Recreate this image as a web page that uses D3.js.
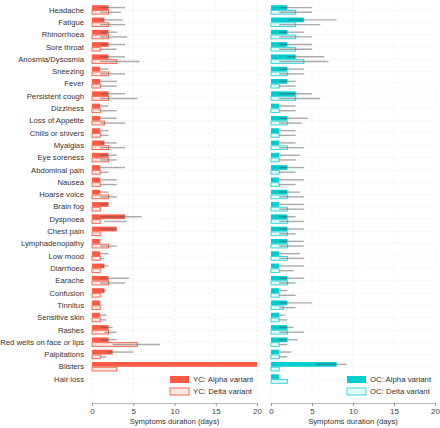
<!DOCTYPE html>
<html><head><meta charset="utf-8">
<script src="https://cdn.jsdelivr.net/npm/d3@7"></script>
<style>
body{margin:0;background:#fff;}
svg{display:block;font-family:"Liberation Sans",Arial,sans-serif;}
</style></head>
<body>
<svg id="chart" width="440" height="428"></svg>
<script>
const symptoms = ["Headache","Fatigue","Rhinorrhoea","Sore throat","Anosmia/Dysosmia","Sneezing","Fever","Persistent cough","Dizziness","Loss of Appetite","Chills or shivers","Myalgias","Eye soreness","Abdominal pain","Nausea","Hoarse voice","Brain fog","Dyspnoea","Chest pain","Lymphadenopathy","Low mood","Diarrhoea","Earache","Confusion","Tinnitus","Sensitive skin","Rashes","Red welts on face or lips","Palpitations","Blisters","Hair loss"];

const ycAlpha   = [2,1.5,2,2,2,1,1,2,1,1,1,1.5,2,1,1,1, 2,4,3,1,1,1.5,2,1.5,1,1,2,2,2.5,20,null];
const ycAlphaLo = [1,1,1,1,1,1,1,1,1,1,1,1,1,1,1,1, 1,1,1,1,1,1,1,1.25,1,1,1,1,1.75,20,null];
const ycAlphaHi = [4,3.75,3,4,4,2,3,4,2,3,2,3,3,4,3,2, 2,6,3,1,2,2,4.5,1.75,1,1.75,2.5,3,5,20,null];
const ycDelta   = [2,2,2,1,3,2,1,2,1,1.5,1,2,2,1,1,2, 1,1,1,2,1,1,2,1,1,1,2,5.5,1,3,null];
const ycDeltaLo = [1,1,1,1,1,1,1,1,1,1,1,1,1,1,1,1, 1,1.5,1,1,1,1,1,1,1,1,1.5,2.5,1,3,null];
const ycDeltaHi = [3.5,4,4.25,3,5.75,4,3,5.5,3,4,2,4,3,2,3,3, 1.1,4.25,1,3,1.5,1,4,1,1,1.75,3,8.25,1.75,3,null];

const ocAlpha   = [2,4,2,2,3,2,2,3,1,2,1,1,1,2,1,2, 1,2,2,2,1,1,2,1,2,1,2,2,1,8,1];
const ocAlphaLo = [1,2,1,1,2,1,1,1,1,1,1,1,1,1,1,1, 1,1,1,1,1,1,1,1,1,1,1,1,1,5.5,1];
const ocAlphaHi = [5,8,4,5,6.5,4,3,5,3,4.5,3,3,3.5,4,4,3.5, 4,3,4,4,3.5,4,4,2,5,1.75,2.75,3.25,2.5,9.25,1];
const ocDelta   = [3,3,3,3,4,2,1,3,1,2,1,2,1,1,1,2, 2,2,2,2,2,1,2,1,1.5,1,2,1,1,1,2];
const ocDeltaLo = [1,1,1,1,1,1,1,1,1,1,1,1,1,1,1,1, 1,1,1,1,1,1,1,1,1,1,1,1,1,1,2];
const ocDeltaHi = [5,6,5,5,7,4,3,6,3,3.75,3,4,3,3,3,4, 4,4,3,4,4,2.75,3,3,3,2,4,2,2,1,2];

const xTicks = [0,5,10,15,20];
const variants = ["alpha","delta"];
const FS = 7.7;

const svg = d3.select("#chart");
const y = d3.scaleBand().domain(symptoms).range([3.8, 385.2]).padding(0);
const yInner = d3.scaleBand().domain(variants).range([0, y.bandwidth()]).paddingOuter(0.3).paddingInner(0);

const panels = [
  {key:"YC", x0:92, x1:257, alpha:[ycAlpha,ycAlphaLo,ycAlphaHi], delta:[ycDelta,ycDeltaLo,ycDeltaHi],
   fill:"#ff5a45", stroke:"#ff6a55", light:"#ffe9e5", grid:"#f6e4e4"},
  {key:"OC", x0:271, x1:435, alpha:[ocAlpha,ocAlphaLo,ocAlphaHi], delta:[ocDelta,ocDeltaLo,ocDeltaHi],
   fill:"#00cdd0", stroke:"#3dd8da", light:"#e2f9f9", grid:"#e0f3f3"}
];

panels.forEach(p => {
  const x = d3.scaleLinear().domain([0,20]).range([p.x0, p.x1]);
  const g = svg.append("g");
  g.selectAll(".vg").data(xTicks).join("line")
    .attr("x1", d=>x(d)).attr("x2", d=>x(d)).attr("y1", 2).attr("y2", 398)
    .attr("stroke", p.grid).attr("stroke-width", 0.8).attr("stroke-dasharray","2,2");
  g.selectAll(".hg").data(symptoms).join("line")
    .attr("x1", x(0)).attr("x2", x(20))
    .attr("y1", d=>y(d)+y.bandwidth()/2).attr("y2", d=>y(d)+y.bandwidth()/2)
    .attr("stroke", p.grid).attr("stroke-width", 0.8).attr("stroke-dasharray","2,2");

  const rows = [];
  symptoms.forEach((s,i) => {
    variants.forEach(v => {
      const arr = p[v];
      if (arr[0][i] != null) rows.push({s, v, val:arr[0][i], lo:arr[1][i], hi:arr[2][i]});
    });
  });
  g.selectAll(".bar").data(rows).join("rect")
    .attr("x", x(0))
    .attr("y", d => y(d.s) + yInner(d.v) + (d.v==="delta"?0.5:0))
    .attr("width", d => x(d.val) - x(0))
    .attr("height", d => yInner.bandwidth() - (d.v==="delta"?1:0))
    .attr("fill", d => d.v==="alpha" ? p.fill : p.light)
    .attr("stroke", d => d.v==="alpha" ? "none" : p.stroke)
    .attr("stroke-width", 1);
  g.selectAll(".err").data(rows.filter(d => d.hi > d.lo)).join("line")
    .attr("x1", d => x(d.lo)).attr("x2", d => x(d.hi))
    .attr("y1", d => y(d.s) + yInner(d.v) + yInner.bandwidth()/2)
    .attr("y2", d => y(d.s) + yInner(d.v) + yInner.bandwidth()/2)
    .attr("stroke", "#555").attr("stroke-opacity", 0.5).attr("stroke-width", 1.4);

  const ax = g.append("g").attr("transform","translate(0,403)")
    .call(d3.axisBottom(x).tickValues(xTicks).tickSize(3).tickPadding(2).tickFormat(d3.format("d")));
  ax.select(".domain").attr("stroke","#bbb");
  ax.selectAll(".tick line").attr("stroke","#999");
  ax.selectAll(".tick text").attr("font-size", FS+0.3).attr("fill","#444").attr("font-family","Liberation Sans, Arial, sans-serif");
  g.append("text").attr("x", (p.x0+p.x1)/2).attr("y", 424).attr("text-anchor","middle")
    .attr("font-size", FS).attr("fill","#333").text("Symptoms duration (days)");

  const lx = p.key==="YC" ? 170 : 347;
  const leg = [{v:"alpha", label:p.key+": Alpha variant", y:376},{v:"delta", label:p.key+": Delta variant", y:388}];
  const lg = g.selectAll(".leg").data(leg).join("g");
  lg.append("rect").attr("x", lx).attr("y", d=>d.y).attr("width", 19).attr("height", 7)
    .attr("fill", d=>d.v==="alpha"?p.fill:p.light).attr("stroke", d=>d.v==="alpha"?"none":p.stroke).attr("stroke-width",1);
  lg.append("text").attr("x", lx+23).attr("y", d=>d.y+3.5).attr("dy","0.35em")
    .attr("font-size", FS+0.1).attr("fill","#333").text(d=>d.label);
});

svg.append("g").selectAll("text").data(symptoms).join("text")
  .attr("x", 84).attr("y", d => y(d) + y.bandwidth()/2).attr("dy","0.35em")
  .attr("text-anchor","end").attr("font-size", FS).attr("fill","#333").text(d=>d);
</script>
</body></html>
